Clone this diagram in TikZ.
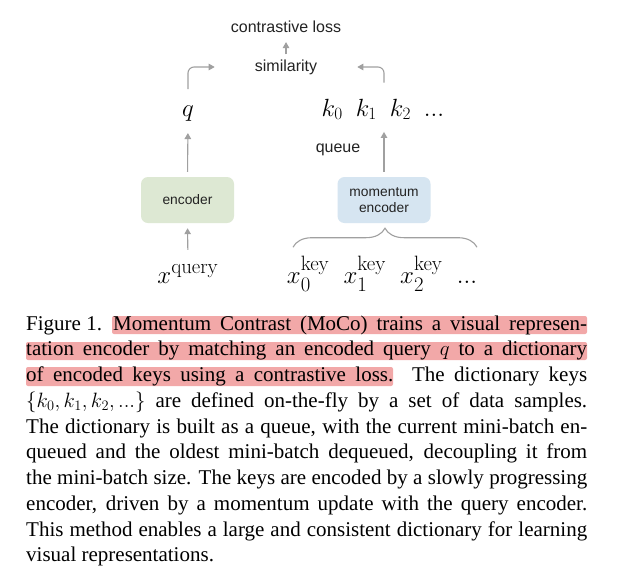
\documentclass[tikz,border=0pt]{standalone}
\usepackage{amsmath}
\usepackage[no-math]{fontspec}
\setmainfont{Liberation Serif}
\setsansfont{Liberation Sans}
\usepackage{tikz}
\usetikzlibrary{arrows.meta, positioning, calc, decorations.pathreplacing}
\definecolor{encgreen}{RGB}{221, 232, 211}
\definecolor{encblue}{RGB}{214, 229, 241}
\definecolor{flowgray}{RGB}{160, 160, 160}
\definecolor{marker}{RGB}{242, 168, 168}
\definecolor{inkgray}{RGB}{35, 35, 35}

\tikzset{
    sanstext/.style={font=\sffamily\fontsize{16}{18}\selectfont, text=inkgray, inner sep=0pt},
    mathtext/.style={font=\fontsize{26}{30}\selectfont, inner sep=0pt, anchor=base},
    inputtext/.style={font=\fontsize{28}{32}\selectfont, inner sep=0pt, anchor=base},
    encbox/.style={rounded corners=7pt, minimum width=93pt, minimum height=46pt, inner sep=0pt,
        align=center, text=inkgray, font=\sffamily\fontsize{13.8}{16}\selectfont},
    flow/.style={draw=flowgray, line width=1.1pt, -{Triangle[length=6pt, width=6.5pt]}, flowgray},
    keybrace/.style={draw=flowgray, line width=1.1pt, decorate, decoration={brace, amplitude=19pt}},
    captext/.style={inner sep=0pt, anchor=base west},
    hl/.style={fill=marker, draw=none, rounded corners=2pt}
}
\newcommand{\capline}[1]{\makebox[561pt][s]{#1}}

\begin{document}
\begin{tikzpicture}[x=1pt, y=-1pt]
    \useasboundingbox[fill=white] (0, 0) rectangle (620, 571);

    % top of the diagram
    \node[sanstext] (loss) at (286, 27) {contrastive loss};
    \node[sanstext] (sim) at (286, 67) {similarity};
    \node[mathtext] (q) at (188, 116) {$q$};
    \node[mathtext] (keys) at (383, 116) {$k_0\enspace k_1\enspace k_2\enspace ...$};
    \node[sanstext] (queue) at (338, 150) {queue};

    % encoders
    \node[encbox, fill=encgreen] (enc) at (187.5, 200) {encoder};
    \node[encbox, fill=encblue] (menc) at (384, 200) {momentum\\encoder};

    % inputs
    \node[inputtext] (xq) at (188, 283) {$x^{\mathrm{query}}$};
    \node[inputtext] (xkeys) at (382, 283) {$x_0^{\mathrm{key}}\enspace x_1^{\mathrm{key}}\enspace x_2^{\mathrm{key}}\enspace ...$};

    \draw[flow, shorten <=5pt, shorten >=9pt] (sim) -- (loss);
    \draw[flow, rounded corners=6pt, shorten <=16pt] (q.north) |- ([xshift=-40pt]sim.west);
    \draw[flow, rounded corners=6pt, shorten <=16pt] (keys.north -| menc.north) |- ([xshift=40pt]sim.east);
    \draw[flow, shorten <=5pt, shorten >=12pt] (enc.north) -- (q.south);
    \draw[flow, shorten <=5pt, shorten >=12pt] (menc.north) -- (menc.north |- keys.south);
    \draw[flow, shorten <=15pt, shorten >=5pt] (xq.north) -- (enc.south);
    \draw[keybrace] ([shift={(-91, 24)}]menc.south) -- ([shift={(93, 24)}]menc.south);

    % caption
    \fill[hl] (112, 316) rectangle (587, 334);
    \fill[hl] (26, 342) rectangle (587, 360);
    \fill[hl] (26, 367) rectangle (393, 386);
    \node[captext] (caption) at (26, 330) {%
        \begin{minipage}[t]{561pt}
        \fontsize{21}{25.75}\selectfont\setlength{\parindent}{0pt}%
        \capline{\makebox[87pt][l]{Figure 1.}Momentum Contrast (MoCo) trains a visual represen-}\\
        \capline{tation encoder by matching an encoded query $q$ to a dictionary}\\
        \capline{of encoded keys using a contrastive loss.\ \ The dictionary keys}\\
        \capline{$\{k_0, k_1, k_2, ...\}$ are defined on-the-fly by a set of data samples.}\\
        \capline{The dictionary is built as a queue, with the current mini-batch en-}\\
        \capline{queued and the oldest mini-batch dequeued, decoupling it from}\\
        \capline{the mini-batch size. The keys are encoded by a slowly progressing}\\
        \capline{encoder, driven by a momentum update with the query encoder.}\\
        \capline{This method enables a large and consistent dictionary for learning}\\
        visual representations.
        \end{minipage}};
\end{tikzpicture}
\end{document}
